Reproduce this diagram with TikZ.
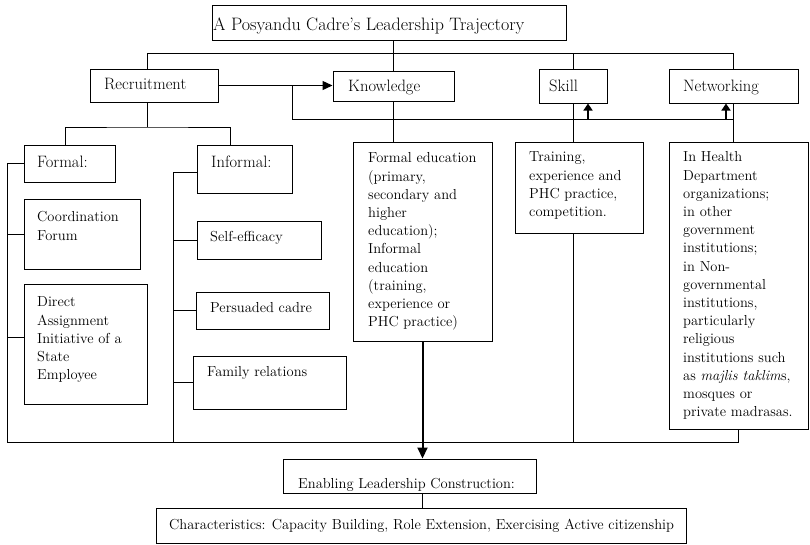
\documentclass[tikz,border=0pt]{standalone}
\usetikzlibrary{arrows.meta,fit}

% A framed cell: [text style], name, corners (x1,y1)-(x2,y2), text origin x, centre of first text line y, text
\newcommand\cell[9][body]{%
  \node[frame, fit={(#3,#4) (#5,#6)}] (#2) {};
  \node[celltext, #1] (#2-t) at (#7,#8) {\strut #9};
}

\begin{document}
\begin{tikzpicture}[x=1pt,y=-1pt,
  frame/.style={draw, line width=1pt, inner sep=0pt},
  celltext/.style={anchor=north west, inner sep=0pt, align=left},
  body/.style={font=\fontsize{14.5}{18.2}\selectfont, yshift=8.1pt},
  head/.style={font=\fontsize{16.5}{20}\selectfont, yshift=9pt},
  titletext/.style={font=\fontsize{18}{21.6}\selectfont, yshift=9.7pt},
  link/.style={line width=0.9pt},
  pointer/.style={line width=1.4pt, -{Triangle[length=10pt,width=9pt]}},
  uppointer/.style={line width=1.4pt, -{Triangle[length=7pt,width=9pt]}},
  heavypointer/.style={line width=2pt, -{Triangle[length=11pt,width=10pt]}},
]
\useasboundingbox (0,0) rectangle (810,544);

% title
\cell[titletext]{title}{212}{5}{566}{40}{213}{24.5}{A Posyandu Cadre's Leadership Trajectory}

% first level
\cell[head]{rec}{90}{69}{218}{102}{104}{84.5}{Recruitment}
\cell[head]{know}{333}{71}{454}{101}{348}{86}{Knowledge}
\cell[head]{skill}{539}{69}{607}{103}{549}{86}{Skill}
\cell[head]{netw}{669}{69}{798}{103}{683}{86}{Networking}

% recruitment branches
\cell[head]{formal}{24}{145}{115}{182}{37}{162}{Formal:}
\cell[head]{informal}{197}{145}{292}{193}{211}{162}{Informal:}
\cell{coord}{24}{199}{140}{269}{37}{217}{Coordination\\Forum}
\cell{direct}{24}{284}{147}{404}{37}{302}{Direct\\Assignment\\Initiative of a\\State\\Employee}
\cell{self}{197}{221}{321}{259}{210}{237}{Self-efficacy}
\cell{pers}{196}{292}{329}{329}{210}{308}{Persuaded cadre}
\cell{family}{193}{356}{346}{409}{207}{372}{Family relations}

% descriptions
\cell{fedu}{353}{142}{492}{341}{368}{158}{Formal education\\(primary,\\secondary and\\higher\\education);\\Informal\\education\\(training,\\experience or\\PHC practice)}
\cell{train}{515}{142}{643}{233}{529}{157}{Training,\\experience and\\PHC practice,\\competition.}
\cell{nettext}{669}{142}{808}{429}{683}{157}{In Health\\Department\\organizations;\\in other\\government\\institutions;\\in Non-\\governmental\\institutions,\\particularly\\religious\\institutions such\\as \textit{majlis taklim}s,\\mosques or\\private madrasas.}

% outcome
\cell{enab}{283}{459}{536}{493}{298}{484}{Enabling Leadership Construction:}
\cell{char}{156}{508}{686}{543}{169}{525}{Characteristics: Capacity Building, Role Extension, Exercising Active citizenship}

% helper levels
\coordinate (busy) at (0,53);
\coordinate (busb) at (0,119);
\coordinate (split) at (0,127);
\coordinate (lbus) at (7.5,442);
\coordinate (ibus) at (173,442);
\path (rec.east) ++(74,0) coordinate (br);

% top bus
\draw[link] (title.south -| know.north) -- (know.north);
\draw[link] ([xshift=-7pt]rec.north) |- (busy -| netw.north) -- (netw.north);
\draw[link] (skill.north) -- (skill.north |- busy);

% recruitment feeds the three capitals
\draw[pointer] (rec.east) -- (rec.east -| know.west);
\draw[link] (br) |- (busb -| netw.south);
\draw[uppointer] ([xshift=15pt]skill.south |- busb) -- ([xshift=15pt]skill.south);
\draw[uppointer] ([xshift=-7.5pt]netw.south |- busb) -- ([xshift=-7.5pt]netw.south);

% capitals to their descriptions
\draw[link] (know.south) -- (know.south |- fedu.north);
\draw[link] (skill.south) -- (skill.south |- train.north);
\draw[link] (netw.south) -- (netw.south |- nettext.north);

% recruitment tree
\draw[link] ([xshift=-7pt]rec.south) -- ([xshift=-7pt]rec.south |- split);
\draw[link] ([xshift=-4.5pt]formal.north) |- ([xshift=-7pt]rec.south |- split)
  -| ([xshift=-14.5pt]informal.north);

% collecting lines
\draw[link] (formal.west) -| (lbus) -| (nettext.south);
\draw[link] (coord.west) -- (coord.west -| lbus);
\draw[link] ([yshift=7pt]direct.west) -- ([yshift=7pt]direct.west -| lbus);
\draw[link] ([yshift=-3pt]informal.west) -| (ibus);
\draw[link] (self.west) -- (self.west -| ibus);
\draw[link] (pers.west) -- (pers.west -| ibus);
\draw[link] (family.west) -- (family.west -| ibus);
\draw[link] (skill.south |- train.south) -- (skill.south |- lbus);

% towards leadership
\draw[heavypointer] (fedu.south) -- (fedu.south |- enab.north);
\draw[link] (enab.south -| fedu.south) -- (char.north -| fedu.south);
\end{tikzpicture}
\end{document}
